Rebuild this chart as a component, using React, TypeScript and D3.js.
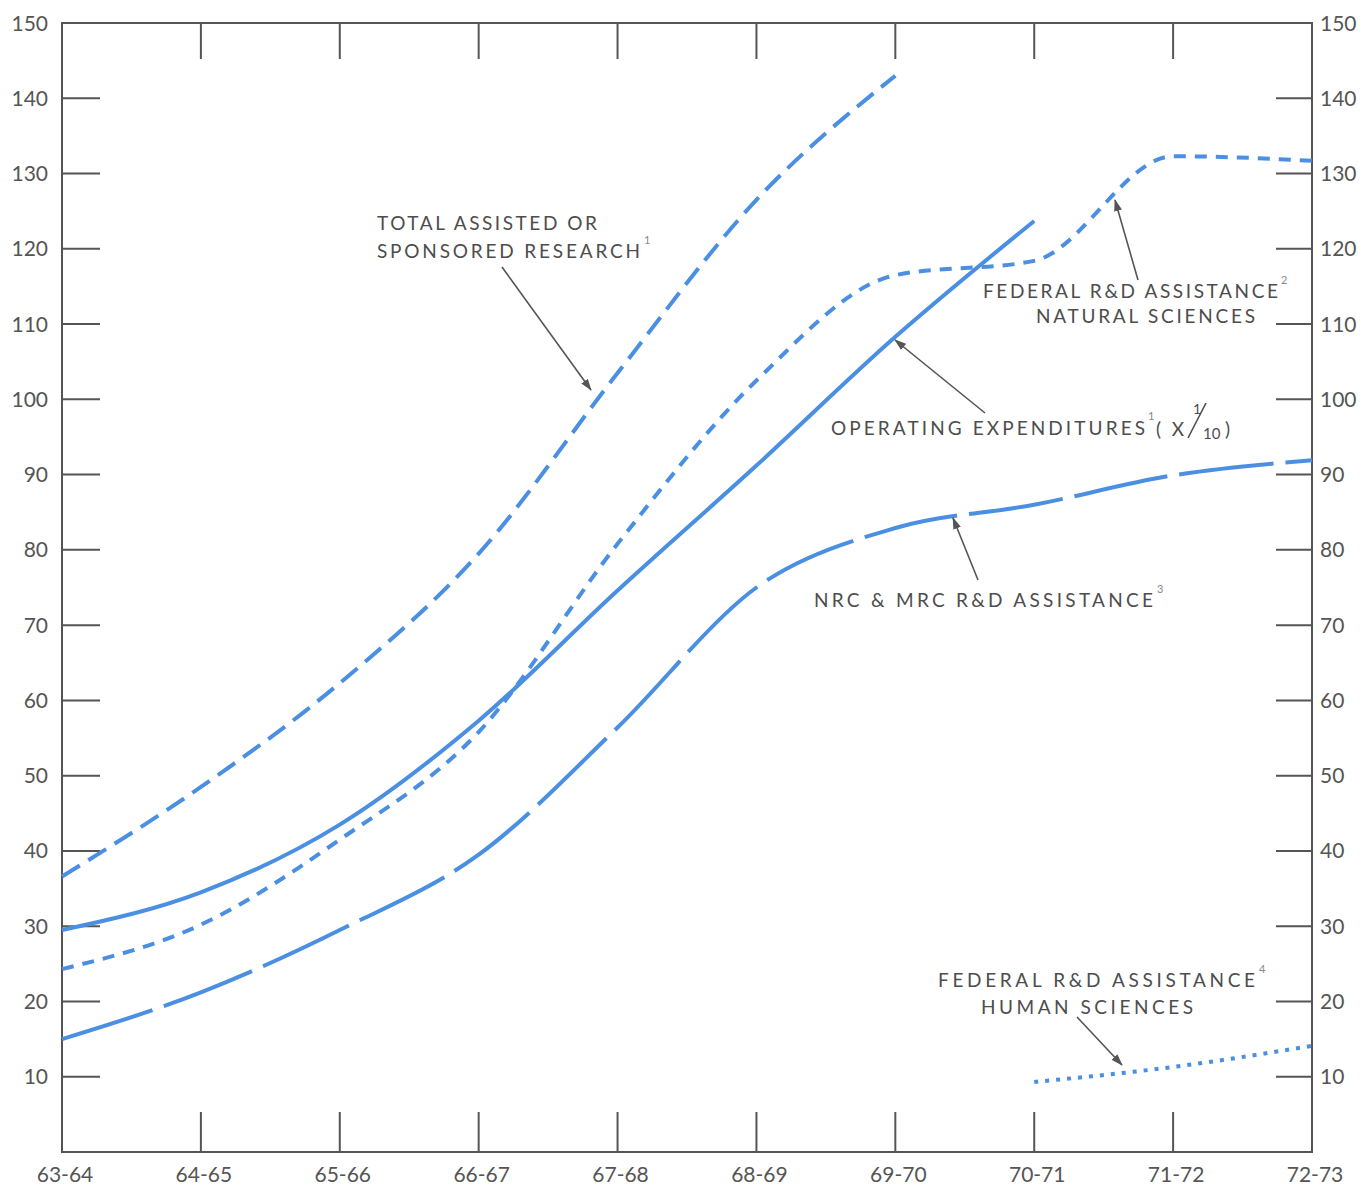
import React from "react";
import * as d3 from "d3";

const categories = ["63-64", "64-65", "65-66", "66-67", "67-68", "68-69", "69-70", "70-71", "71-72", "72-73"];
const yTicks = [10, 20, 30, 40, 50, 60, 70, 80, 90, 100, 110, 120, 130, 140, 150];

// Values indexed by category position
const totalResearch = [36.6, 48.5, 62.3, 79.5, 103.5, 126.5, 143];
const operatingExp = [29.5, 34.5, 43.5, 57.3, 74.6, 91.2, 108.3, 123.7];
const naturalSci = [24.3, 30.2, 41.5, 55.8, 80.8, 102.5, 116.5, 118.4, 132.3, 131.7];
const nrcMrc = [15, 21.2, 29.5, 39.5, 56.4, 75, 82.9, 86, 89.9, 91.9];
const humanSciStart = 7;
const humanSci = [9.3, 11.3, 14.1];

const W = 1362;
const H = 1188;
const BLUE = "#4a8fe2";
const INK = "#555";

export default function App() {
  const x = d3.scaleLinear().domain([0, categories.length - 1]).range([62, 1312]);
  const y = d3.scaleLinear().domain([0, 150]).range([1152, 23]);
  const line = d3
    .line<[number, number]>()
    .x((d) => x(d[0]))
    .y((d) => y(d[1]))
    .curve(d3.curveMonotoneX);
  const pts = (arr: number[], start = 0) => arr.map((v, i) => [i + start, v] as [number, number]);

  // annotation positions in chart coordinates (category index, value)
  const px = (xx: number) => x.invert(xx);
  const py = (yy: number) => y.invert(yy);
  const P = (ix: number, v: number) => [x(ix), y(v)];

  type Lbl = { text: string; ix: number; v: number; w: number };
  const labels: Lbl[] = [
    { text: "TOTAL ASSISTED OR", ix: px(377), v: py(230), w: 220 },
    { text: "SPONSORED RESEARCH", ix: px(377), v: py(258), w: 263 },
    { text: "FEDERAL R&D ASSISTANCE", ix: px(983), v: py(298), w: 295 },
    { text: "NATURAL SCIENCES", ix: px(1036), v: py(323), w: 219 },
    { text: "OPERATING EXPENDITURES", ix: px(831), v: py(435), w: 314 },
    { text: "(X", ix: px(1156), v: py(436), w: 28 },
    { text: "NRC & MRC R&D ASSISTANCE", ix: px(814), v: py(607), w: 339 },
    { text: "FEDERAL R&D ASSISTANCE", ix: px(938), v: py(987), w: 317 },
    { text: "HUMAN SCIENCES", ix: px(981), v: py(1014), w: 212 },
  ];
  const sups = [
    { text: "1", ix: px(644), v: py(244) },
    { text: "2", ix: px(1281), v: py(284) },
    { text: "1", ix: px(1148), v: py(420) },
    { text: "3", ix: px(1157), v: py(593) },
    { text: "4", ix: px(1259), v: py(973) },
  ];
  const arrows = [
    [px(502), py(267), px(591), py(390)],
    [px(1138), py(280), px(1115), py(200)],
    [px(985), py(413), px(895), py(340)],
    [px(978), py(580), px(953), py(518)],
    [px(1077), py(1017), px(1122), py(1065)],
  ];

  const font = "Lato, 'Liberation Sans', sans-serif";

  return (
    <svg
      width={W}
      height={H}
      viewBox={`0 0 ${W} ${H}`}
      style={{ position: "absolute", left: 0, top: 0, background: "#fff" }}
      fontFamily={font}
    >
      <defs>
        <marker id="ah" viewBox="0 0 12 8" refX="11" refY="4" markerWidth="12" markerHeight="8" markerUnits="userSpaceOnUse" orient="auto">
          <path d="M0,0 L12,4 L0,8 Z" fill={INK} />
        </marker>
      </defs>
      <rect x={0} y={0} width={W} height={H} fill="#fff" />

      {/* frame */}
      <rect x={x(0)} y={y(150)} width={x(9) - x(0)} height={y(0) - y(150)} fill="none" stroke={INK} strokeWidth={2} />

      {/* y ticks left and right */}
      {yTicks.filter((t) => t < 150).map((t) => (
        <g key={"yt" + t}>
          <line x1={x(0)} x2={x(0) + 38} y1={y(t)} y2={y(t)} stroke={INK} strokeWidth={2} />
          <line x1={x(9) - 36} x2={x(9)} y1={y(t)} y2={y(t)} stroke={INK} strokeWidth={2} />
        </g>
      ))}
      {yTicks.map((t) => (
        <g key={"yl" + t} fontSize={21} fill={INK}>
          <text x={48} y={y(t) + 7.5} textAnchor="end">{t}</text>
          <text x={1320} y={y(t) + 7.5} textAnchor="start">{t}</text>
        </g>
      ))}

      {/* x ticks top and bottom */}
      {categories.map((c, i) =>
        i > 0 && i < categories.length - 1 ? (
          <g key={"xt" + c}>
            <line x1={x(i)} x2={x(i)} y1={y(150)} y2={y(150) + 36} stroke={INK} strokeWidth={2} />
            <line x1={x(i)} x2={x(i)} y1={y(0)} y2={y(0) - 40} stroke={INK} strokeWidth={2} />
          </g>
        ) : null
      )}
      {categories.map((c, i) => (
        <text key={"xl" + c} x={x(i) + 3} y={1182} textAnchor="middle" fontSize={21} fill={INK}>
          {c}
        </text>
      ))}

      {/* series */}
      <path d={line(pts(totalResearch)) || ""} fill="none" stroke={BLUE} strokeWidth={4} strokeDasharray="21,10" />
      <path d={line(pts(naturalSci)) || ""} fill="none" stroke={BLUE} strokeWidth={4} strokeDasharray="12,9" />
      <path d={line(pts(operatingExp)) || ""} fill="none" stroke={BLUE} strokeWidth={4} />
      <path d={line(pts(nrcMrc)) || ""} fill="none" stroke={BLUE} strokeWidth={4} strokeDasharray="95,12" />
      <path d={line(pts(humanSci, humanSciStart)) || ""} fill="none" stroke={BLUE} strokeWidth={4} strokeDasharray="4,7" />

      {/* annotations */}
      {labels.map((l, i) => (
        <text
          key={"lb" + i}
          x={x(l.ix)}
          y={y(l.v)}
          fontSize={19}
          fill="#4d4d4d"
          textLength={l.w}
          lengthAdjust="spacing"
        >
          {l.text}
        </text>
      ))}
      {sups.map((s, i) => (
        <text key={"sp" + i} x={x(s.ix)} y={y(s.v)} fontSize={11} fill="#888">
          {s.text}
        </text>
      ))}
      {/* 1/10 fraction */}
      <text x={1193} y={414} fontSize={14} fill="#4d4d4d">1</text>
      <line x1={1188} y1={438} x2={1206} y2={403} stroke="#4d4d4d" strokeWidth={1.6} />
      <text x={1203} y={439} fontSize={15} fill="#4d4d4d">10</text>
      <text x={1225} y={436} fontSize={19} fill="#4d4d4d">)</text>

      {arrows.map((a, i) => {
        const [x1, y1] = P(a[0], a[1]);
        const [x2, y2] = P(a[2], a[3]);
        return <line key={"ar" + i} x1={x1} y1={y1} x2={x2} y2={y2} stroke={INK} strokeWidth={1.6} markerEnd="url(#ah)" />;
      })}
    </svg>
  );
}
